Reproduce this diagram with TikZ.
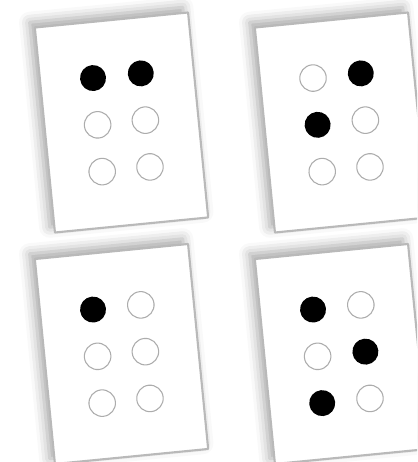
\documentclass[tikz,border=0pt]{standalone}
\usetikzlibrary{shadows.blur}
\tikzset{
  card/.style={rectangle, fill=white, draw=gray!55, line width=1.2pt,
    minimum width=3.08cm, minimum height=4.12cm, inner sep=0pt,
    blur shadow={shadow xshift=-3pt, shadow yshift=3pt, shadow blur radius=6pt, shadow opacity=35}},
  full/.style={circle, fill=black, minimum size=0.52cm, inner sep=0pt},
  empty/.style={circle, draw=gray!65, line width=0.6pt, minimum size=0.53cm, inner sep=0pt}
}
\begin{document}
\begin{tikzpicture}[x=0.02cm, y=0.02cm, line join=round, line cap=round]
	\useasboundingbox (0,0) rectangle (417,462);
	\clip (0,0) rectangle (417,462);
	% top left card: dots 1 and 4
	\begin{scope}[shift={(121.5,339.5)}, rotate=5.6, transform shape]
		\node[card] (a) at (0,0) {};
		\node[full] (a1) at (-24,47) {};
		\node[full] (a4) at (24,47) {};
		\node[empty] (a2) at (-24,0) {};
		\node[empty] (a5) at (24,0) {};
		\node[empty] (a3) at (-24,-47) {};
		\node[empty] (a6) at (24,-47) {};
	\end{scope}
	% top right card: dots 2 and 4
	\begin{scope}[shift={(341.5,339.5)}, rotate=5.6, transform shape]
		\node[card] (b) at (0,0) {};
		\node[empty] (b1) at (-24,47) {};
		\node[full] (b4) at (24,47) {};
		\node[full] (b2) at (-24,0) {};
		\node[empty] (b5) at (24,0) {};
		\node[empty] (b3) at (-24,-47) {};
		\node[empty] (b6) at (24,-47) {};
	\end{scope}
	% bottom left card: dot 1
	\begin{scope}[shift={(121.5,108)}, rotate=5.6, transform shape]
		\node[card] (c) at (0,0) {};
		\node[full] (c1) at (-24,47) {};
		\node[empty] (c4) at (24,47) {};
		\node[empty] (c2) at (-24,0) {};
		\node[empty] (c5) at (24,0) {};
		\node[empty] (c3) at (-24,-47) {};
		\node[empty] (c6) at (24,-47) {};
	\end{scope}
	% bottom right card: dots 1, 3 and 5
	\begin{scope}[shift={(341.5,108)}, rotate=5.6, transform shape]
		\node[card] (d) at (0,0) {};
		\node[full] (d1) at (-24,47) {};
		\node[empty] (d4) at (24,47) {};
		\node[empty] (d2) at (-24,0) {};
		\node[full] (d5) at (24,0) {};
		\node[full] (d3) at (-24,-47) {};
		\node[empty] (d6) at (24,-47) {};
	\end{scope}
\end{tikzpicture}
\end{document}
